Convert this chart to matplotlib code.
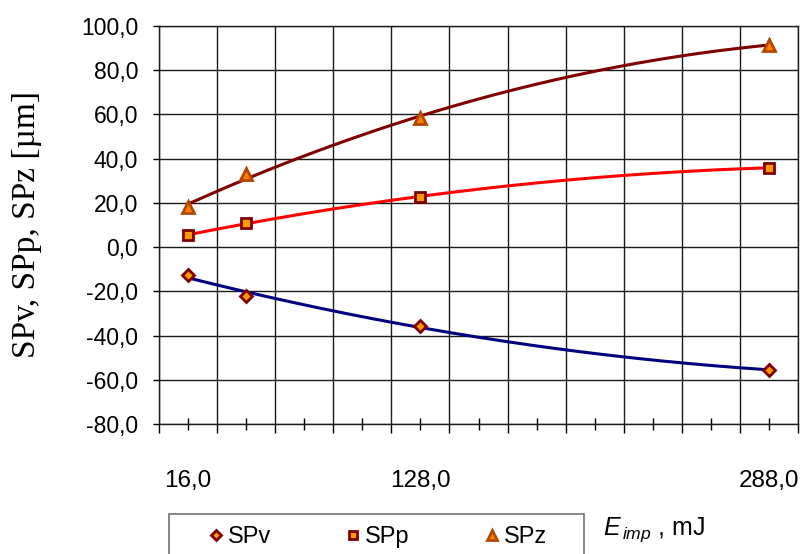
import numpy as np
import matplotlib
matplotlib.use('Agg')
from matplotlib import pyplot as plt
from matplotlib.patches import Rectangle

plt.rcParams['font.family'] = ['Liberation Sans', 'DejaVu Sans']
plt.rcParams['mathtext.fontset'] = 'custom'
plt.rcParams['mathtext.it'] = 'Liberation Sans:italic'
plt.rcParams['mathtext.rm'] = 'Liberation Sans'

# category axis: 11 slots, only three of them labelled
cat_labels = ['16,0', '', '', '', '128,0', '', '', '', '', '', '288,0']
# slot of each measured energy
x_idx = [0, 1, 4, 10]

sp_v = [-12.5, -22.3, -35.6, -55.6]
sp_p = [5.3, 11.0, 22.8, 35.9]
sp_z = [18.0, 33.0, 58.5, 91.5]

y_ticks = [-80, -60, -40, -20, 0, 20, 40, 60, 80, 100]

#%%
fig = plt.figure(figsize=(8, 5.54), dpi=100)
ax = fig.add_axes([159 / 800, 1 - 424 / 554, 639 / 800, 398 / 554])

xs = np.linspace(min(x_idx), max(x_idx), 200)
series = [
    ('SPv', sp_v, '#000080', 'D', '#FF9900', '#800000', 6.5),
    ('SPp', sp_p, '#FF0000', 's', '#FF9900', '#800000', 6.5),
    ('SPz', sp_z, '#800000', '^', '#FF7F00', '#B34700', 8),
]
handles = []
for name, vals, lc, mk, fc, ec, ms in series:
    # 2nd order trendline like in the spreadsheet
    coef = np.polyfit(x_idx, vals, 2)
    ax.plot(xs, np.polyval(coef, xs), color=lc, lw=2.2, zorder=3)
    h, = ax.plot(x_idx, vals, ls='none', marker=mk, ms=ms, mfc=fc, mec=ec,
                 mew=2, label=name, zorder=4)
    handles.append(h)

ax.set_xlim(-0.5, 10.5)
ax.set_ylim(-80, 100)
ax.set_xticks(np.arange(-0.5, 11, 1))
ax.set_xticklabels([])
ax.set_xticks(range(len(cat_labels)), minor=True)
ax.set_xticklabels(cat_labels, minor=True)
ax.set_yticks(y_ticks)
ax.set_yticklabels([f'{v:.1f}'.replace('.', ',') for v in y_ticks])

ax.grid(True, which='major', color='#1a1a1a', lw=1)
ax.tick_params(axis='y', which='major', length=4, width=1, pad=11, labelsize=16.5)
ax.tick_params(axis='x', which='major', length=6.5, width=1, direction='out')
ax.tick_params(axis='x', which='minor', length=8.6, width=1, direction='inout',
               pad=29, labelsize=17.5)
for s in ax.spines.values():
    s.set_color('#1a1a1a')
    s.set_linewidth(1)

ax.set_ylabel('SPv, SPp, SPz [µm]', family=['Liberation Serif'], fontsize=24)
ax.yaxis.set_label_coords(-0.183, 0.5)

# legend box drawn on its own, runs past the bottom edge like the original
fig.patches.append(Rectangle((169 / 800, -0.05), (584 - 169) / 800,
                             1 - 514 / 554 + 0.05, transform=fig.transFigure,
                             fill=False, edgecolor='#707070', lw=1.2))
leg = fig.legend(handles=handles, loc='upper left', ncol=3,
                 bbox_to_anchor=(169 / 800, 1 - 514 / 554), fontsize=17,
                 frameon=False, handlelength=2.98, handletextpad=-0.98,
                 columnspacing=1.98, borderpad=0.5, borderaxespad=0,
                 markerscale=0.85)

fig.text(603 / 800, 1 - 535 / 554, r'$\mathit{E}_{\,\mathit{imp}}$ , mJ',
         fontsize=18, va='baseline', ha='left')

fig.savefig('out.png', dpi=100)
